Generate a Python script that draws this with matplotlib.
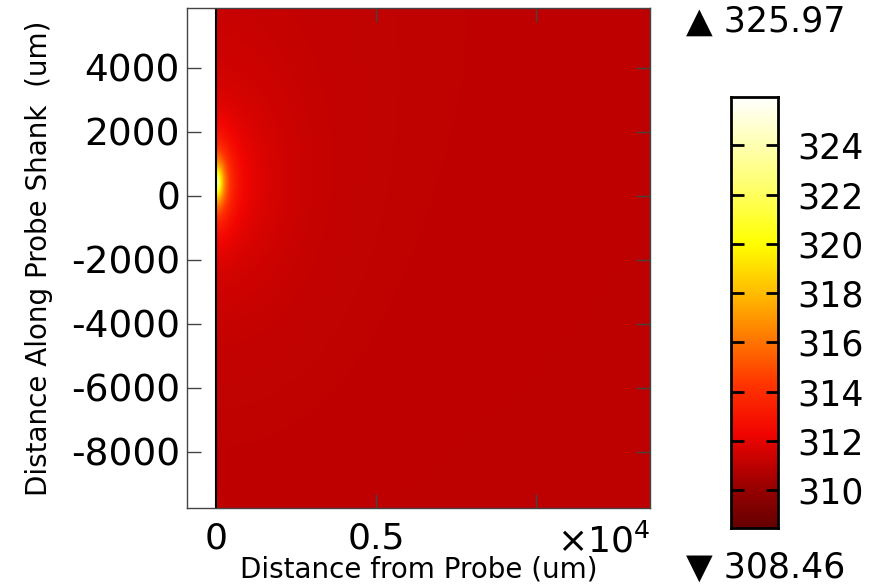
import numpy as np
import matplotlib
matplotlib.use('Agg')
import matplotlib.pyplot as plt
from matplotlib.colors import LinearSegmentedColormap

# temperature range shown by the legend (K)
t_min = 308.46
t_max = 325.97
cbar_ticks = [310, 312, 314, 316, 318, 320, 322, 324]

# axes ticks (um)
x_ticks = [0, 5000, 10000]
x_tick_labels = ['0', '0.5', '']
y_ticks = [4000, 2000, 0, -2000, -4000, -6000, -8000]
y_tick_labels = ['4000', '2000', '0', '-2000', '-4000', '-6000', '-8000']

# plotted region (um)
x_lim = (-906, 13563)
y_lim = (-9750, 5875)

# hot spot on the shank (um) and temperature model parameters
src_y = 430
t_far = 311.0      # far field
t_near = 0.15      # slight warming of tissue near the top of the shank
a_fast, l_fast, k_fast = 13.0, 200.0, 2.8
a_slow, l_slow, k_slow = 2.4, 1200.0, 1.5

# thermal colormap anchors
cmap_pos = [0.0, 0.1, 0.22, 0.33, 0.45, 0.55, 0.66, 0.8, 1.0]
cmap_rgb = [(0.40, 0, 0), (0.62, 0, 0), (0.95, 0.02, 0), (1, 0.2, 0), (1, 0.5, 0),
            (1, 0.75, 0), (1, 1, 0), (1, 1, 0.45), (1, 1, 1)]


def temperature(x, y):
    # elliptical decay away from the hot spot at x = 0
    d_fast = np.hypot(x, (y - src_y) / k_fast)
    d_slow = np.hypot(x, (y - src_y) / k_slow)
    return (t_far + t_near * np.exp(-np.hypot(x, y - y_lim[1]) / 5000.0)
            + a_fast * np.exp(-d_fast / l_fast) + a_slow * np.exp(-d_slow / l_slow))


cmap = LinearSegmentedColormap.from_list('thermal', list(zip(cmap_pos, cmap_rgb)), N=2048)

xs = np.linspace(0, x_lim[1], 900)
ys = np.linspace(y_lim[0], y_lim[1], 1000)
X, Y = np.meshgrid(xs, ys)
T = temperature(X, Y)

fig = plt.figure(figsize=(8.85, 5.88), dpi=100)
ax = fig.add_axes([187 / 885, 80 / 588, 463 / 885, 500 / 588])
ax.imshow(T, origin='lower', extent=[0, x_lim[1], y_lim[0], y_lim[1]],
          cmap=cmap, vmin=t_min, vmax=t_max, aspect='auto', interpolation='bilinear')
ax.axvline(0, color='black', lw=1.5)
ax.set_xlim(*x_lim)
ax.set_ylim(*y_lim)

ax.set_xticks(x_ticks)
ax.set_xticklabels(x_tick_labels, fontsize=26)
ax.set_yticks(y_ticks)
ax.set_yticklabels(y_tick_labels, fontsize=27)
ax.tick_params(direction='in', length=10, width=1, color='#444444',
               top=True, right=True)
ax.tick_params(axis='x', pad=10)
ax.tick_params(axis='y', pad=5)
for s in ax.spines.values():
    s.set_color('#444444')
    s.set_linewidth(1)

ax.set_xlabel('Distance from Probe (um)', fontsize=20, labelpad=0)
ax.set_ylabel('Distance Along Probe Shank  (um)', fontsize=20, labelpad=13)
ax.text(1.0, -0.066, r'$\times 10^{4}$', transform=ax.transAxes, ha='right', va='center',
        fontsize=26)

# colour legend
cax = fig.add_axes([731 / 885, 60 / 588, 47 / 885, 431 / 588])
grad = np.linspace(t_min, t_max, 500).reshape(-1, 1)
cax.imshow(grad, origin='lower', extent=[0, 1, t_min, t_max], cmap=cmap,
           vmin=t_min, vmax=t_max, aspect='auto')
cax.set_xticks([])
cax.set_yticks(cbar_ticks)
cax.set_yticklabels([str(t) for t in cbar_ticks], fontsize=25)
cax.yaxis.tick_right()
cax.tick_params(axis='y', direction='in', length=9, width=2, color='black',
                left=True, right=True, pad=14)
for s in cax.spines.values():
    s.set_linewidth(2)

fig.text(686 / 885, 1 - 22 / 588, '\u25b2 %.2f' % t_max, fontsize=25, ha='left', va='center')
fig.text(686 / 885, 1 - 568 / 588, '\u25bc %.2f' % t_min, fontsize=25, ha='left', va='center')

fig.savefig('out.png', dpi=100)
